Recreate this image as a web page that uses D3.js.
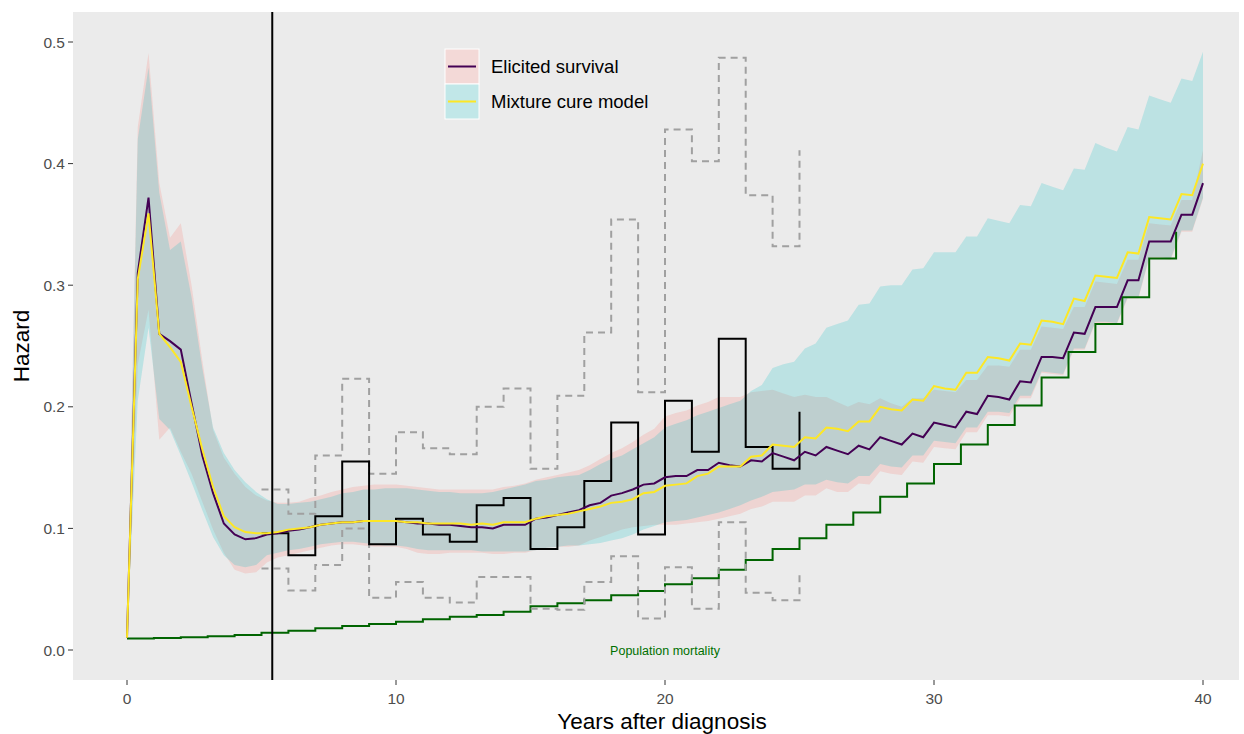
<!DOCTYPE html>
<html>
<head>
<meta charset="utf-8">
<script src="https://d3js.org/d3.v7.min.js"></script>
<style>
  body { margin: 0; background: #fff; }
  svg text { font-family: "Liberation Sans", Arial, Helvetica, sans-serif; }
</style>
</head>
<body>
<div id="chart"></div>
<script>
// model curves are evaluated on a 0.4-year grid
const times = [0,0.4,0.8,1.2,1.6,2,2.4,2.8,3.2,3.6,
  4,4.4,4.8,5.2,5.6,6,6.4,6.8,7.2,7.6,
  8,8.4,8.8,9.2,9.6,10,10.4,10.8,11.2,11.6,
  12,12.4,12.8,13.2,13.6,14,14.4,14.8,15.2,15.6,
  16,16.4,16.8,17.2,17.6,18,18.4,18.8,19.2,19.6,
  20,20.4,20.8,21.2,21.6,22,22.4,22.8,23.2,23.6,
  24,24.4,24.8,25.2,25.6,26,26.4,26.8,27.2,27.6,
  28,28.4,28.8,29.2,29.6,30,30.4,30.8,31.2,31.6,
  32,32.4,32.8,33.2,33.6,34,34.4,34.8,35.2,35.6,
  36,36.4,36.8,37.2,37.6,38,38.4,38.8,39.2,39.6,
  40];

const elicited = [0.010,0.310,0.372,0.260,0.254,0.247,0.203,0.160,0.129,0.104,
  0.095,0.091,0.092,0.095,0.096,0.098,0.099,0.101,0.103,0.104,
  0.105,0.105,0.106,0.106,0.106,0.106,0.105,0.104,0.104,0.103,
  0.103,0.102,0.101,0.101,0.100,0.103,0.103,0.103,0.108,0.109,
  0.111,0.113,0.115,0.119,0.121,0.127,0.129,0.132,0.136,0.137,
  0.142,0.143,0.143,0.148,0.148,0.154,0.152,0.151,0.156,0.155,
  0.162,0.159,0.156,0.163,0.160,0.167,0.164,0.161,0.168,0.165,
  0.175,0.172,0.169,0.178,0.175,0.187,0.185,0.183,0.196,0.194,
  0.209,0.208,0.206,0.221,0.220,0.241,0.241,0.240,0.261,0.260,
  0.282,0.282,0.282,0.304,0.304,0.336,0.336,0.336,0.358,0.358,
  0.384];
const elicitedLo = [0.010,0.235,0.280,0.173,0.183,0.163,0.145,0.122,0.099,0.080,
  0.066,0.063,0.064,0.072,0.076,0.078,0.080,0.082,0.084,0.086,
  0.087,0.087,0.086,0.085,0.085,0.085,0.083,0.080,0.079,0.079,
  0.080,0.080,0.080,0.080,0.079,0.079,0.080,0.080,0.082,0.084,
  0.085,0.085,0.086,0.090,0.093,0.096,0.099,0.101,0.102,0.103,
  0.103,0.103,0.104,0.105,0.106,0.108,0.110,0.112,0.116,0.118,
  0.122,0.122,0.122,0.127,0.127,0.133,0.130,0.130,0.137,0.136,
  0.147,0.145,0.144,0.155,0.154,0.167,0.166,0.165,0.179,0.179,
  0.193,0.193,0.192,0.207,0.207,0.228,0.227,0.226,0.247,0.247,
  0.269,0.269,0.268,0.289,0.289,0.322,0.322,0.321,0.344,0.344,
  0.371];
const elicitedHi = [0.010,0.430,0.491,0.384,0.339,0.351,0.300,0.238,0.181,0.158,
  0.145,0.134,0.127,0.123,0.121,0.121,0.122,0.125,0.127,0.130,
  0.132,0.134,0.135,0.136,0.136,0.136,0.135,0.134,0.133,0.132,
  0.132,0.132,0.132,0.132,0.132,0.134,0.135,0.137,0.140,0.142,
  0.144,0.146,0.148,0.152,0.157,0.162,0.166,0.171,0.177,0.182,
  0.192,0.195,0.197,0.201,0.204,0.208,0.208,0.208,0.212,0.213,
  0.214,0.211,0.208,0.210,0.208,0.208,0.204,0.200,0.204,0.202,
  0.207,0.203,0.200,0.207,0.207,0.214,0.213,0.212,0.222,0.222,
  0.234,0.234,0.233,0.247,0.247,0.266,0.265,0.264,0.282,0.282,
  0.303,0.302,0.301,0.321,0.321,0.351,0.350,0.349,0.370,0.370,
  0.411];

const mixture = [0.010,0.305,0.359,0.260,0.249,0.237,0.200,0.165,0.134,0.110,
  0.101,0.097,0.096,0.096,0.097,0.099,0.100,0.101,0.103,0.104,
  0.105,0.105,0.106,0.106,0.106,0.106,0.105,0.105,0.104,0.104,
  0.104,0.104,0.103,0.104,0.103,0.105,0.105,0.105,0.108,0.110,
  0.111,0.112,0.114,0.116,0.118,0.121,0.122,0.124,0.129,0.130,
  0.135,0.136,0.137,0.143,0.145,0.151,0.151,0.151,0.159,0.160,
  0.169,0.168,0.167,0.175,0.174,0.183,0.182,0.180,0.188,0.188,
  0.200,0.198,0.197,0.206,0.205,0.217,0.215,0.214,0.228,0.228,
  0.241,0.240,0.238,0.252,0.251,0.271,0.270,0.268,0.289,0.287,
  0.308,0.307,0.306,0.327,0.326,0.356,0.355,0.354,0.375,0.374,
  0.400];
const mixtureLo = [0.010,0.205,0.265,0.190,0.181,0.160,0.138,0.115,0.093,0.078,
  0.070,0.068,0.070,0.078,0.080,0.082,0.083,0.085,0.087,0.088,
  0.089,0.089,0.088,0.087,0.086,0.086,0.085,0.083,0.082,0.082,
  0.082,0.082,0.082,0.081,0.081,0.081,0.081,0.081,0.082,0.084,
  0.085,0.086,0.086,0.087,0.088,0.090,0.092,0.095,0.099,0.102,
  0.105,0.106,0.107,0.109,0.111,0.113,0.116,0.119,0.123,0.126,
  0.130,0.131,0.132,0.136,0.136,0.140,0.138,0.137,0.143,0.143,
  0.153,0.151,0.150,0.160,0.160,0.172,0.171,0.170,0.183,0.183,
  0.196,0.196,0.195,0.209,0.209,0.229,0.228,0.227,0.248,0.248,
  0.270,0.270,0.269,0.290,0.290,0.323,0.323,0.322,0.345,0.345,
  0.372];
const mixtureHi = [0.010,0.420,0.479,0.376,0.329,0.336,0.290,0.232,0.183,0.162,
  0.148,0.138,0.130,0.124,0.120,0.120,0.121,0.122,0.124,0.126,
  0.129,0.130,0.132,0.132,0.133,0.133,0.133,0.132,0.131,0.130,
  0.130,0.129,0.129,0.129,0.130,0.132,0.134,0.136,0.139,0.140,
  0.142,0.143,0.144,0.148,0.153,0.157,0.160,0.165,0.170,0.175,
  0.183,0.186,0.189,0.193,0.196,0.199,0.202,0.205,0.213,0.218,
  0.232,0.235,0.237,0.248,0.252,0.265,0.268,0.271,0.284,0.285,
  0.299,0.300,0.300,0.313,0.314,0.327,0.327,0.327,0.340,0.340,
  0.355,0.353,0.351,0.366,0.365,0.384,0.381,0.378,0.396,0.395,
  0.417,0.413,0.410,0.430,0.428,0.456,0.453,0.450,0.470,0.468,
  0.492];

// observed yearly hazard with confidence limits
const obsYears = [5,6,7,8,9,10,11,12,13,14,15,16,17,18,19,20,21,22,23,24,25];
const obsHaz   = [0.096,0.078,0.110,0.155,0.087,0.108,0.095,0.089,0.119,0.125,0.083,0.101,0.139,0.187,0.095,0.205,0.163,0.256,0.167,0.149,0.196];
const obsUpper = [0.132,0.112,0.160,0.223,0.145,0.179,0.166,0.161,0.200,0.215,0.149,0.209,0.261,0.354,0.212,0.428,0.402,0.487,0.374,0.332,0.411];
const obsLower = [0.067,0.049,0.070,0.100,0.043,0.056,0.043,0.039,0.060,0.060,0.034,0.033,0.056,0.077,0.026,0.068,0.034,0.105,0.047,0.041,0.065];

// general population mortality
const popYears = [0,1,2,3,4,5,6,7,8,9,10,11,12,13,14,15,16,17,18,19,20,21,22,23,24,25,26,27,28,29,30,31,32,33,34,35,36,37,38,39];
const popHaz = [0.0095,0.0099,0.0105,0.0113,0.0123,0.0142,0.0159,0.0178,0.0197,0.0214,0.0233,0.0252,0.0274,0.0288,0.0315,0.036,0.0385,0.041,0.045,0.0485,0.054,0.059,0.066,0.074,0.083,0.092,0.103,0.113,0.126,0.137,0.153,0.169,0.185,0.201,0.224,0.245,0.268,0.29,0.322,0.344];

const cutoff = 5.4;
const xTicks = [0,10,20,30,40];
const yTicks = [0,0.1,0.2,0.3,0.4,0.5];
const legendLabels = ["Elicited survival", "Mixture cure model"];

const width = 1244, height = 734;
const panel = { left: 73, right: 1239, top: 12, bottom: 680 };

const x = d3.scaleLinear().domain([0, 40]).range([127, 1203]);
const y = d3.scaleLinear().domain([0, 0.5]).range([650, 42]);

const svg = d3.select("#chart").append("svg")
  .attr("width", width).attr("height", height);

svg.append("rect")
  .attr("x", panel.left).attr("y", panel.top)
  .attr("width", panel.right - panel.left).attr("height", panel.bottom - panel.top)
  .attr("fill", "#EBEBEB");

svg.append("clipPath").attr("id", "clip").append("rect")
  .attr("x", panel.left).attr("y", panel.top)
  .attr("width", panel.right - panel.left).attr("height", panel.bottom - panel.top);

const g = svg.append("g").attr("clip-path", "url(#clip)");

const idx = d3.range(times.length);

const band = (lo, hi) => d3.area()
  .x(i => x(times[i])).y0(i => y(lo[i])).y1(i => y(hi[i]));
const curve = vals => d3.line().x(i => x(times[i])).y(i => y(vals[i]));

g.append("path").attr("d", band(elicitedLo, elicitedHi)(idx))
  .attr("fill", "#F8766D").attr("fill-opacity", 0.2);
g.append("path").attr("d", band(mixtureLo, mixtureHi)(idx))
  .attr("fill", "#00BFC4").attr("fill-opacity", 0.2);

const step = (xs, ys) => d3.line().curve(d3.curveStepAfter)
  .x(i => x(xs[i])).y(i => y(ys[i]))(d3.range(xs.length));

// population mortality
g.append("path").attr("d", step(popYears, popHaz))
  .attr("fill", "none").attr("stroke", "#006400").attr("stroke-width", 2);

// observed CI
[obsUpper, obsLower].forEach(arr => {
  g.append("path").attr("d", step(obsYears, arr))
    .attr("fill", "none").attr("stroke", "#A0A0A0").attr("stroke-width", 2)
    .attr("stroke-dasharray", "7,5");
});
g.append("path").attr("d", step(obsYears, obsHaz))
  .attr("fill", "none").attr("stroke", "#000").attr("stroke-width", 2);

g.append("path").attr("d", curve(elicited)(idx))
  .attr("fill", "none").attr("stroke", "#440154").attr("stroke-width", 2);
g.append("path").attr("d", curve(mixture)(idx))
  .attr("fill", "none").attr("stroke", "#FDE725").attr("stroke-width", 2);

g.append("line")
  .attr("x1", x(cutoff)).attr("x2", x(cutoff))
  .attr("y1", panel.top).attr("y2", panel.bottom)
  .attr("stroke", "#000").attr("stroke-width", 2);

g.append("text")
  .attr("x", x(20)).attr("y", y(0) + 4.5)
  .attr("text-anchor", "middle")
  .attr("font-size", 12.5)
  .attr("fill", "#007000")
  .text("Population mortality");

// axes
const yAxis = svg.append("g");
yTicks.forEach(t => {
  yAxis.append("line").attr("x1", panel.left - 5).attr("x2", panel.left)
    .attr("y1", y(t)).attr("y2", y(t)).attr("stroke", "#333").attr("stroke-width", 1);
  yAxis.append("text").attr("x", panel.left - 8).attr("y", y(t) + 5.5)
    .attr("text-anchor", "end").attr("font-size", 15.5).attr("fill", "#4D4D4D")
    .text(d3.format(".1f")(t));
});
const xAxis = svg.append("g");
xTicks.forEach(t => {
  xAxis.append("line").attr("x1", x(t)).attr("x2", x(t))
    .attr("y1", panel.bottom).attr("y2", panel.bottom + 5).attr("stroke", "#333").attr("stroke-width", 1);
  xAxis.append("text").attr("x", x(t)).attr("y", panel.bottom + 24)
    .attr("text-anchor", "middle").attr("font-size", 15.5).attr("fill", "#4D4D4D")
    .text(t);
});

svg.append("text")
  .attr("x", (panel.left + panel.right) / 2 + 6).attr("y", 729)
  .attr("text-anchor", "middle").attr("font-size", 22.5).attr("fill", "#000")
  .text("Years after diagnosis");
svg.append("text")
  .attr("transform", `translate(29, ${(panel.top + panel.bottom) / 2}) rotate(-90)`)
  .attr("text-anchor", "middle").attr("font-size", 22.5).attr("fill", "#000")
  .text("Hazard");

// legend
const keyFill = ["#F8766D", "#00BFC4"];
const keyLine = ["#440154", "#FDE725"];
const legend = svg.append("g").attr("transform", "translate(445,49)");
legendLabels.forEach((lab, i) => {
  const k = legend.append("g").attr("transform", `translate(0, ${i * 35})`);
  k.append("rect").attr("width", 34).attr("height", 35)
    .attr("fill", "#F2F2F2").attr("stroke", "#fff").attr("stroke-width", 1);
  k.append("rect").attr("x", 0.5).attr("y", 0.5).attr("width", 33).attr("height", 34)
    .attr("fill", keyFill[i]).attr("fill-opacity", 0.2);
  k.append("line").attr("x1", 3).attr("x2", 31).attr("y1", 17.5).attr("y2", 17.5)
    .attr("stroke", keyLine[i]).attr("stroke-width", 2);
  k.append("text").attr("x", 46).attr("y", 24).attr("font-size", 18.5).attr("fill", "#000")
    .text(lab);
});
</script>
</body>
</html>
